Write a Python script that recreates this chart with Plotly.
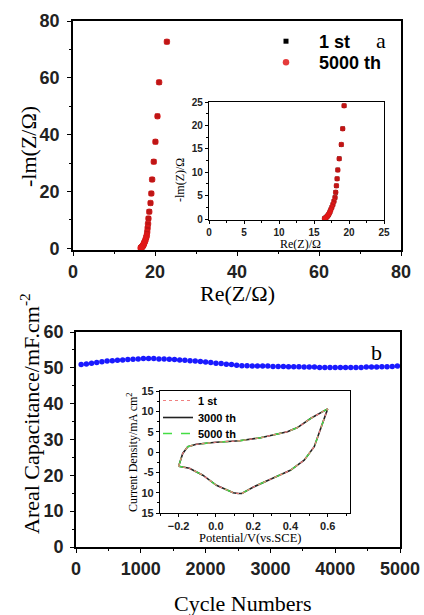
import plotly.graph_objects as go

W, H = 424, 615

# ---- Panel a: Nyquist data (1st and 5000th overlap) ----
re_1st = [22.9, 21.0, 20.6, 20.1, 19.7, 19.3, 19.1, 18.9, 18.6, 18.4, 18.3, 18.2, 18.1, 18.0,
          17.85, 17.7, 17.55, 17.4, 17.3, 17.2, 17.1, 17.0, 16.9, 16.8, 16.7, 16.6, 16.5]
im_1st = [72.7, 58.4, 46.5, 37.5, 30.5, 24.2, 19.3, 15.9, 12.9, 10.5, 8.6, 7.1, 5.7, 4.6,
          3.8, 3.1, 2.5, 2.0, 1.6, 1.3, 1.0, 0.8, 0.6, 0.45, 0.3, 0.2, 0.1]
re_5000 = [22.9, 21.0, 20.6, 20.1, 19.7, 19.3, 19.1, 18.9, 18.6, 18.4, 18.3, 18.2, 18.1, 18.0,
           17.85, 17.7, 17.55, 17.4, 17.3, 17.2, 17.1, 17.0, 16.9, 16.8, 16.7, 16.6, 16.5]
im_5000 = [72.7, 58.4, 46.5, 37.5, 30.5, 24.2, 19.3, 15.9, 12.9, 10.5, 8.6, 7.1, 5.7, 4.6,
           3.8, 3.1, 2.5, 2.0, 1.6, 1.3, 1.0, 0.8, 0.6, 0.45, 0.3, 0.2, 0.1]

# ---- Panel b: cycling stability ----
cycles = [80, 160, 240, 320, 400, 480, 560, 640, 720, 800, 880, 960, 1040, 1120, 1200, 1280,
          1360, 1440, 1520, 1600, 1680, 1760, 1840, 1920, 2000, 2080, 2160, 2240, 2320, 2400,
          2480, 2560, 2640, 2720, 2800, 2880, 2960, 3040, 3120, 3200, 3280, 3360, 3440, 3520,
          3600, 3680, 3760, 3840, 3920, 4000, 4080, 4160, 4240, 4320, 4400, 4480, 4560, 4640,
          4720, 4800, 4880, 4960]
capacitance = [50.9, 51.1, 51.3, 51.5, 51.7, 51.9, 52.0, 52.1, 52.2, 52.3, 52.4, 52.5, 52.6,
               52.6, 52.6, 52.5, 52.5, 52.4, 52.3, 52.2, 52.1, 52.0, 51.9, 51.8, 51.6, 51.5,
               51.3, 51.2, 51.0, 50.9, 50.7, 50.6, 50.6, 50.5, 50.5, 50.5, 50.5, 50.4, 50.4,
               50.4, 50.3, 50.3, 50.3, 50.2, 50.2, 50.2, 50.1, 50.1, 50.1, 50.1, 50.1, 50.1,
               50.1, 50.1, 50.1, 50.2, 50.2, 50.2, 50.3, 50.3, 50.4, 50.5]

# ---- Inset b: CV curves (three overlapping cycles) ----
cv_potential = [-0.2, -0.178, -0.151, -0.105, 0.0, 0.127, 0.24, 0.384, 0.438, 0.51, 0.6,
                0.565, 0.528, 0.474, 0.40, 0.293, 0.202, 0.139, 0.12, 0.093, 0.003, -0.07,
                -0.142, -0.2]
cv_current = [-3.5, -0.35, 1.3, 1.9, 2.4, 2.76, 3.5, 5.0, 6.0, 8.3, 10.6,
              5.8, 1.3, -2.0, -4.5, -6.7, -8.6, -10.2, -10.2, -10.0, -8.2, -5.7,
              -4.0, -3.5]

SANS = "Arial, Liberation Sans, sans-serif"
SERIF = "Times New Roman, Liberation Serif, serif"


def px2x(p):
    return p / W


def py2y(p):
    return (H - p) / H


fig = go.Figure()

# Panel a main
fig.add_trace(go.Scatter(x=re_1st, y=im_1st, mode="markers", name="1 st",
                         marker=dict(symbol="square", size=5, color="black"),
                         xaxis="x", yaxis="y", legend="legend"))
fig.add_trace(go.Scatter(x=re_5000, y=im_5000, mode="markers", name="5000 th",
                         marker=dict(symbol="circle", size=6.5, color="rgba(225,25,25,0.85)"),
                         xaxis="x", yaxis="y", legend="legend3"))
# Panel a inset
fig.add_trace(go.Scatter(x=re_1st, y=im_1st, mode="markers", showlegend=False,
                         marker=dict(symbol="square", size=4.5, color="black"),
                         xaxis="x2", yaxis="y2", cliponaxis=True))
fig.add_trace(go.Scatter(x=re_5000, y=im_5000, mode="markers", showlegend=False,
                         marker=dict(symbol="circle", size=5.5, color="rgba(225,25,25,0.85)"),
                         xaxis="x2", yaxis="y2", cliponaxis=True))
# Panel b main
fig.add_trace(go.Scatter(x=cycles, y=capacitance, mode="markers", showlegend=False,
                         marker=dict(symbol="circle", size=5.5, color="#1a1aff"),
                         xaxis="x3", yaxis="y3"))
# Panel b inset
fig.add_trace(go.Scatter(x=cv_potential, y=cv_current, mode="lines", name="3000 th",
                         line=dict(color="#222222", width=1.6),
                         xaxis="x4", yaxis="y4", legend="legend4"))
fig.add_trace(go.Scatter(x=cv_potential, y=cv_current, mode="lines", name="5000 th",
                         line=dict(color="#44dd44", width=1.4, dash="dash"),
                         xaxis="x4", yaxis="y4", legend="legend5"))
fig.add_trace(go.Scatter(x=cv_potential, y=cv_current, mode="lines", name="1 st",
                         line=dict(color="#f08080", width=1.2, dash="dot"),
                         xaxis="x4", yaxis="y4", legend="legend2"))


def axis(domain, anchor, rng, dtick, minor_dtick, size, lw=1.8, ticklen=4, **kw):
    d = dict(domain=domain, anchor=anchor, range=rng, dtick=dtick, tick0=0,
             showgrid=False, zeroline=False, showline=True, linecolor="black",
             linewidth=lw, mirror=True, ticks="outside", ticklen=ticklen,
             tickwidth=1.3, tickcolor="black", automargin=False,
             minor=dict(ticks="outside", ticklen=max(2, ticklen - 2), dtick=minor_dtick,
                        tickcolor="black", tickwidth=1),
             tickfont=dict(family=SANS, size=size, color="#222", weight="bold"))
    d.update(kw)
    return d


def legend_at(left_px, top_px, size, itemwidth=30):
    return dict(x=px2x(left_px), y=py2y(top_px), xanchor="left", yanchor="top",
                bgcolor="rgba(0,0,0,0)", borderwidth=0, itemwidth=itemwidth,
                font=dict(family=SANS, size=size, color="black", weight="bold"))


fig.update_layout(
    width=W, height=H, margin=dict(l=0, r=0, t=0, b=0, autoexpand=False),
    paper_bgcolor="white", plot_bgcolor="white", showlegend=True,
    xaxis=axis([px2x(73), px2x(401)], "y", [0, 80], 20, 10, 18),
    yaxis=axis([py2y(250), py2y(21)], "x", [-0.6, 80], 20, 10, 18, ticklabelstandoff=4),
    xaxis2=axis([px2x(209), px2x(384)], "y2", [0, 25], 5, 2.5, 10, lw=1.3, ticklen=3),
    yaxis2=axis([py2y(220), py2y(102)], "x2", [-0.2, 25], 5, 2.5, 10, lw=1.3, ticklen=3),
    xaxis3=axis([px2x(76), px2x(400)], "y3", [0, 5000], 1000, 500, 18),
    yaxis3=axis([py2y(547), py2y(332)], "x3", [0, 60], 10, 5, 18, ticklabelstandoff=3),
    xaxis4=axis([px2x(160), px2x(350)], "y4", [-0.3, 0.72], 0.2, 0.1, 11, lw=1.3, ticklen=3,
                tickformat=".1f", tick0=-0.2),
    yaxis4=axis([py2y(513), py2y(391)], "x4", [-15, 15], 5, 2.5, 11, lw=1.3, ticklen=3,
                tickmode="array", tickvals=[-15, -10, -5, 0, 5, 10, 15],
                ticktext=["15", "10", "-5", "0", "5", "10", "15"]),
    legend=legend_at(253, 23, 18, itemwidth=56),
    legend3=legend_at(253, 44, 18, itemwidth=56),
    legend2=legend_at(158, 386, 11),
    legend4=legend_at(158, 403, 11),
    legend5=legend_at(158, 419, 11),
)

ann = [
    dict(text="-lm(Z/Ω)", x=px2x(28), y=py2y(147), textangle=-90, size=22),
    dict(text="Re(Z/Ω)", x=px2x(237), y=py2y(293), textangle=0, size=22),
    dict(text="-lm(Z)/Ω", x=px2x(180), y=py2y(180), textangle=-90, size=12),
    dict(text="Re(Z)/Ω", x=px2x(300), y=py2y(244), textangle=0, size=12),
    dict(text="a", x=px2x(381), y=py2y(40), textangle=0, size=22),
    dict(text="Areal Capacitance/mF.cm<sup>-2</sup>", x=px2x(30), y=py2y(414), textangle=-90, size=22),
    dict(text="Cycle Numbers", x=px2x(243), y=py2y(603), textangle=0, size=22),
    dict(text="Current Density/mA cm<sup>2</sup>", x=px2x(132), y=py2y(452), textangle=-90, size=12),
    dict(text="Potential/V(vs.SCE)", x=px2x(250), y=py2y(538), textangle=0, size=12.5),
    dict(text="b", x=px2x(376), y=py2y(352), textangle=0, size=22),
]
for a in ann:
    fig.add_annotation(text=a["text"], x=a["x"], y=a["y"], xref="paper", yref="paper",
                       xanchor="center", yanchor="middle", showarrow=False,
                       textangle=a["textangle"],
                       font=dict(family=SERIF, size=a["size"], color="black"))

fig.write_html("out.html", config={"displayModeBar": False},
               post_script="document.body.style.margin='0';")
